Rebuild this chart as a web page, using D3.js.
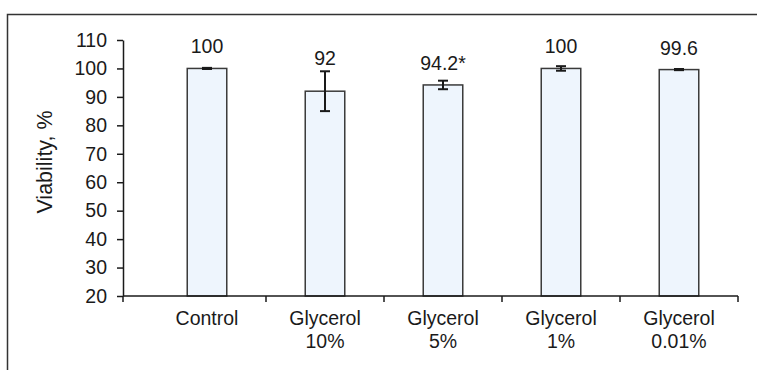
<!DOCTYPE html>
<html>
<head>
<meta charset="utf-8">
<script src="https://cdn.jsdelivr.net/npm/d3@7"></script>
<style>
  html, body { margin: 0; padding: 0; background: #fff; }
  svg { display: block; font-family: "Liberation Sans", Arial, sans-serif; }
</style>
</head>
<body>
<svg id="chart" width="757" height="370"></svg>
<script>
// Cell viability by treatment
const categories = [["Control"], ["Glycerol", "10%"], ["Glycerol", "5%"], ["Glycerol", "1%"], ["Glycerol", "0.01%"]];
const values = [100, 92, 94.2, 100, 99.6];
const errors = [0.2, 7, 1.5, 0.8, 0.2];
const valueLabels = ["100", "92", "94.2*", "100", "99.6"];
const yTicks = [20, 30, 40, 50, 60, 70, 80, 90, 100, 110];

const svg = d3.select("#chart");
const ink = "#1a1a1a";
const fs = 19.5;

// outer frame
svg.append("rect")
  .attr("x", 7.5).attr("y", 14.5)
  .attr("width", 800).attr("height", 400)
  .attr("fill", "none").attr("stroke", "#333").attr("stroke-width", 1.5);

const x0 = 123, yTop = 40, yBot = 296;
const x = d3.scaleBand().domain(d3.range(categories.length)).range([148, 738]).padding(0);
const y = d3.scaleLinear().domain([20, 110]).range([yBot, yTop]);
const barW = x.bandwidth() * 0.335;

// bars
svg.append("g").selectAll("rect").data(values).join("rect")
  .attr("x", (d, i) => x(i) + (x.bandwidth() - barW) / 2)
  .attr("y", d => y(d))
  .attr("width", barW)
  .attr("height", d => y(20) - y(d))
  .attr("fill", "#eef5fd")
  .attr("stroke", "#3a3a3a")
  .attr("stroke-width", 1.5);

// error bars
const eg = svg.append("g").attr("stroke", ink).attr("stroke-width", 2);
values.forEach((v, i) => {
  const cx = x(i) + x.bandwidth() / 2;
  const lo = y(v - errors[i]), hi = y(v + errors[i]);
  eg.append("line").attr("x1", cx).attr("x2", cx).attr("y1", lo).attr("y2", hi);
  eg.append("line").attr("x1", cx - 5).attr("x2", cx + 5).attr("y1", lo).attr("y2", lo);
  eg.append("line").attr("x1", cx - 5).attr("x2", cx + 5).attr("y1", hi).attr("y2", hi);
});

// value labels
svg.append("g").selectAll("text").data(values).join("text")
  .attr("x", (d, i) => x(i) + x.bandwidth() / 2)
  .attr("y", (d, i) => Math.min(y(d) - 15, y(d + errors[i]) - 6))
  .attr("text-anchor", "middle")
  .attr("font-size", fs)
  .attr("fill", ink)
  .text((d, i) => valueLabels[i]);

// y axis
const yAxis = svg.append("g")
  .attr("transform", `translate(${x0},0)`)
  .call(d3.axisLeft(y).tickValues(yTicks).tickSize(6).tickPadding(10).tickSizeOuter(0));
yAxis.select(".domain").attr("stroke", ink).attr("stroke-width", 1.5);
yAxis.selectAll(".tick line").attr("stroke", ink).attr("stroke-width", 1.5);
yAxis.selectAll(".tick text").attr("font-size", fs).attr("fill", ink)
  .attr("font-family", "Liberation Sans, Arial, sans-serif");

// x axis line with category boundary ticks
const xg = svg.append("g").attr("stroke", ink).attr("stroke-width", 1.5);
xg.append("line").attr("x1", x0).attr("x2", x.range()[1]).attr("y1", y(20)).attr("y2", y(20));
const bounds = [x0].concat(d3.range(1, categories.length).map(i => x(i)), [x.range()[1]]);
xg.selectAll("line.tk").data(bounds).join("line").attr("class", "tk")
  .attr("x1", d => d).attr("x2", d => d)
  .attr("y1", y(20)).attr("y2", y(20) + 6);

// category labels
const cl = svg.append("g").selectAll("text").data(categories).join("text")
  .attr("x", (d, i) => x(i) + x.bandwidth() / 2)
  .attr("y", 325)
  .attr("text-anchor", "middle")
  .attr("font-size", fs)
  .attr("fill", ink);
cl.selectAll("tspan").data(d => d).join("tspan")
  .attr("x", function () { return d3.select(this.parentNode).attr("x"); })
  .attr("dy", (d, j) => j === 0 ? 0 : 23)
  .text(d => d);

// y axis title
svg.append("text")
  .attr("transform", "translate(52,162) rotate(-90)")
  .attr("text-anchor", "middle")
  .attr("font-size", 21.5)
  .attr("fill", ink)
  .text("Viability, %");
</script>
</body>
</html>
